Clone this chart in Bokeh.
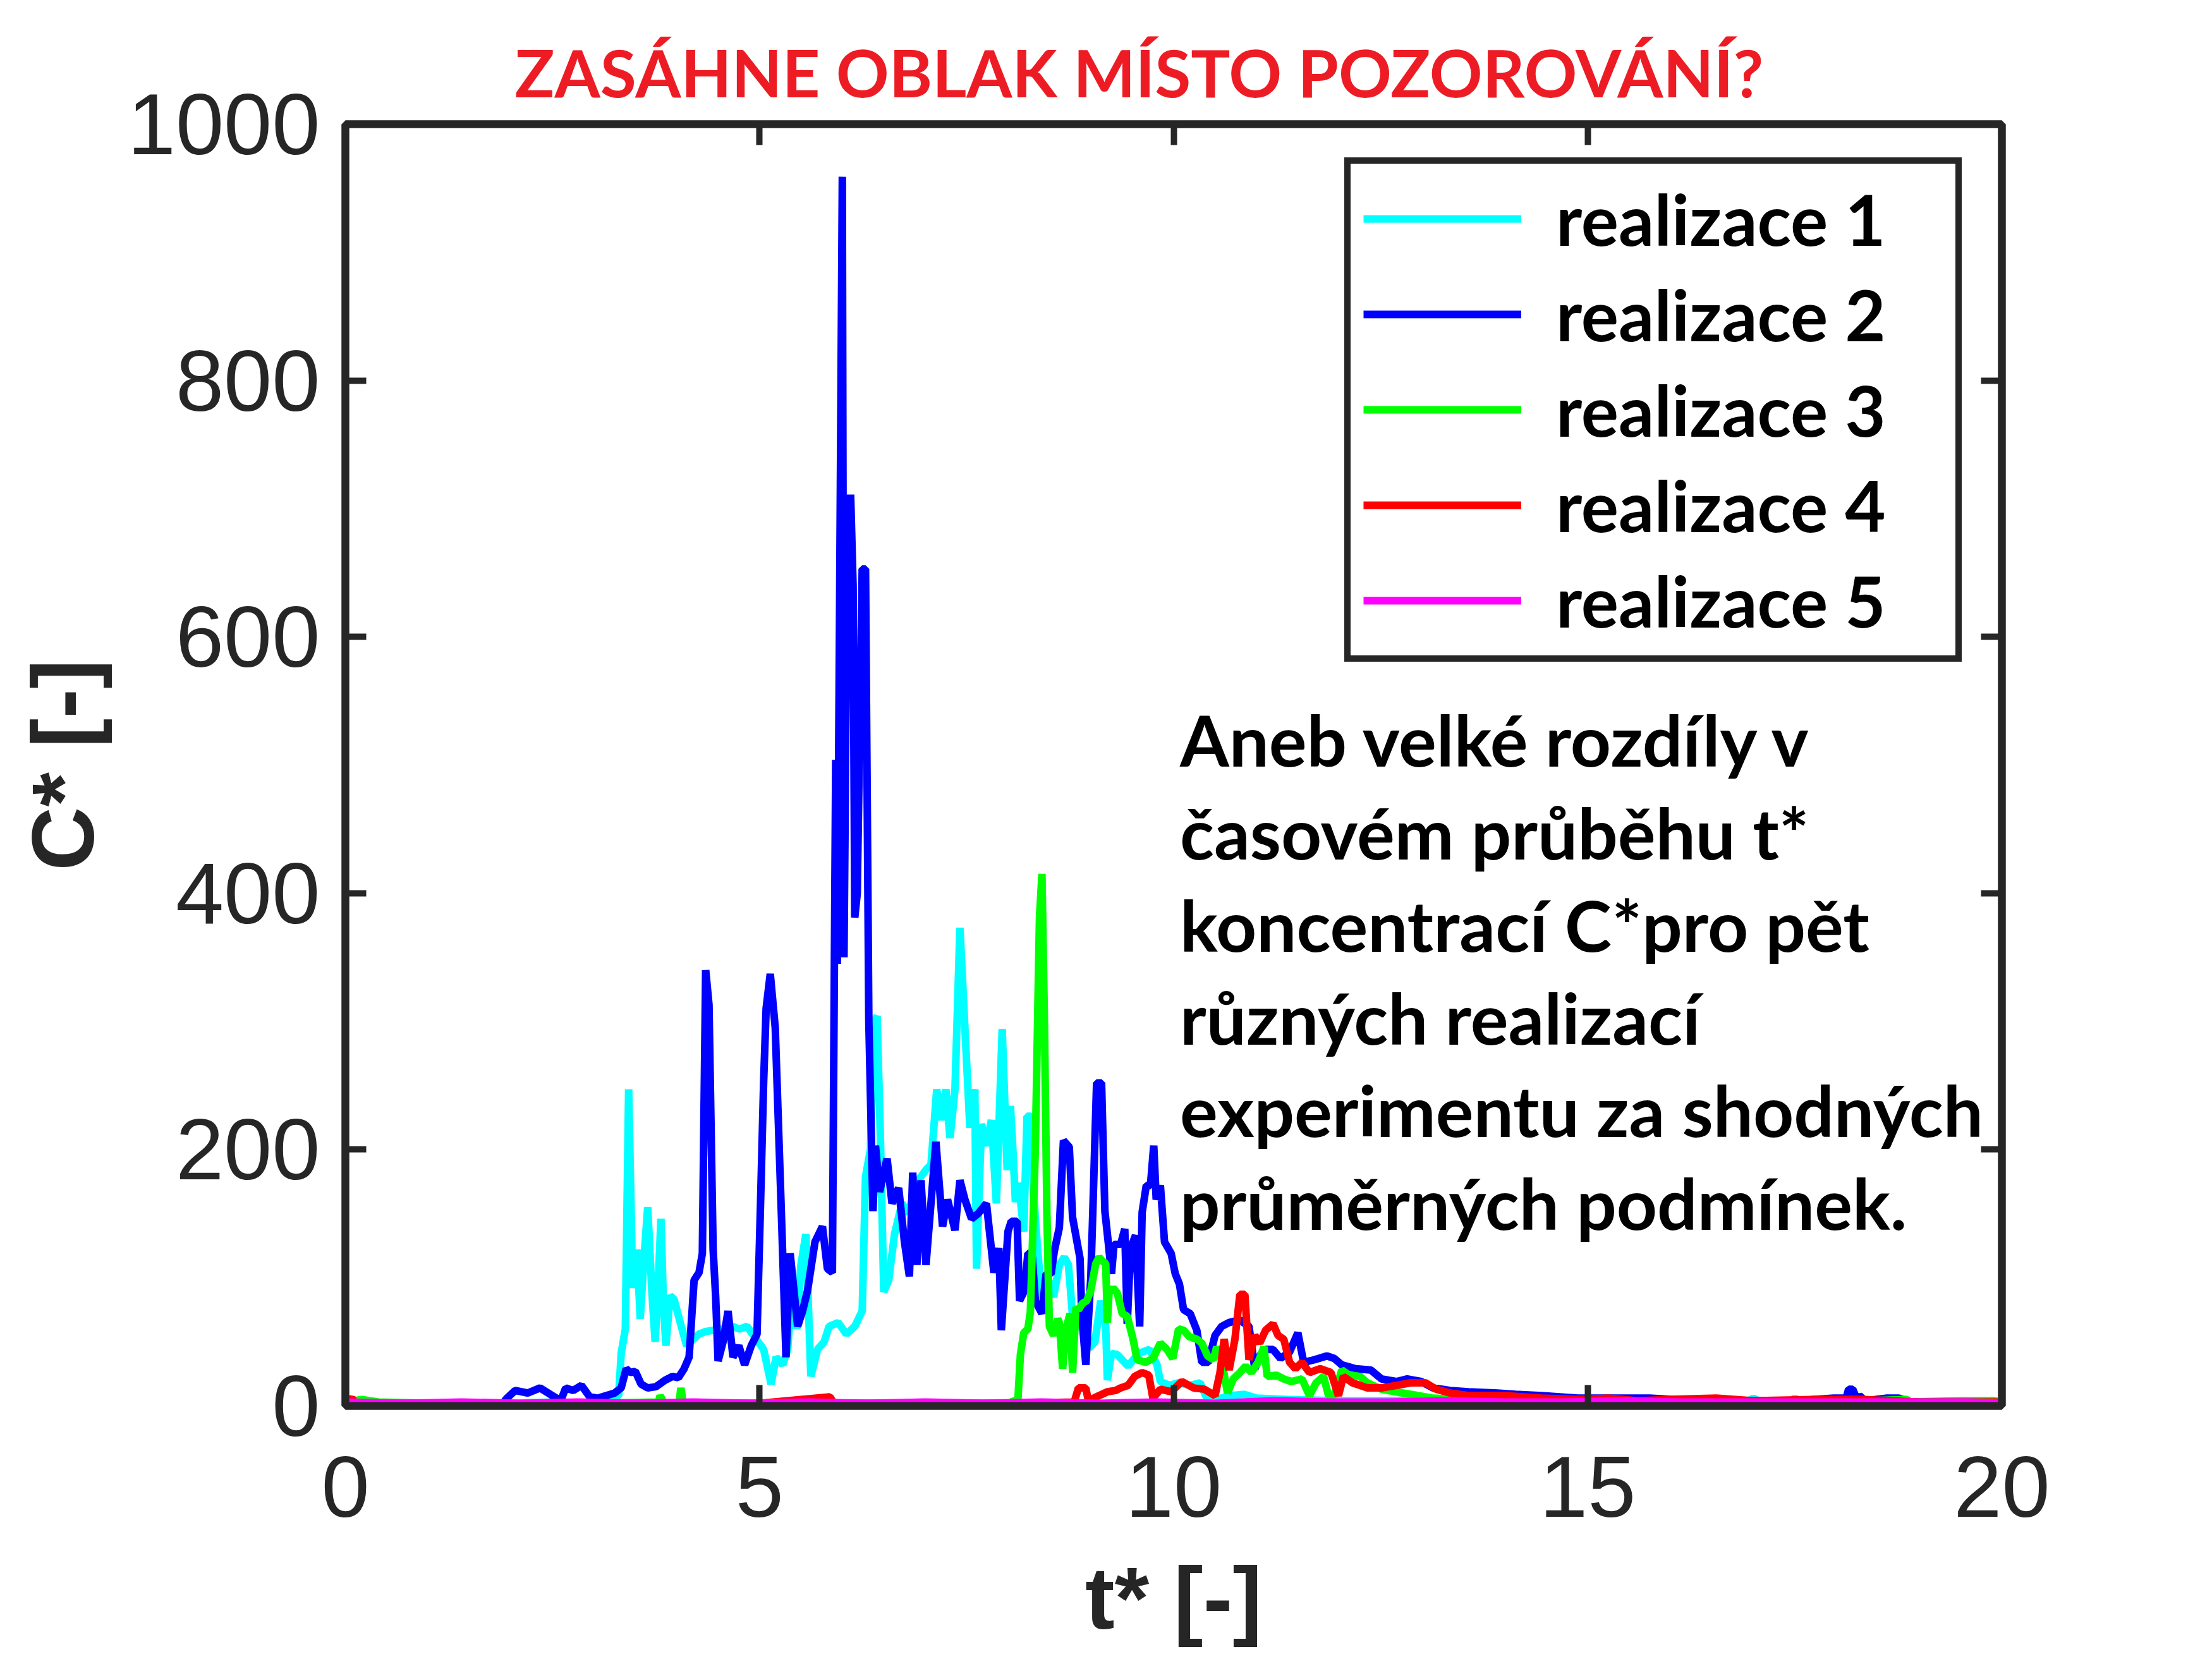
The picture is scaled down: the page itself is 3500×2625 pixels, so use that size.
from bokeh.plotting import figure
from bokeh.models import Range1d, LinearAxis, FixedTicker, Legend, LegendItem, Label
from bokeh.embed import file_html
from bokeh.resources import INLINE

# realizace 1 (cyan)
t1 = [0, 0.5, 1.0, 1.5, 2.0, 2.5, 3.0, 3.3,
      3.33, 3.38, 3.42, 3.46, 3.48, 3.52, 3.56, 3.60, 3.65, 3.70,
      3.74, 3.78, 3.81, 3.84, 3.87, 3.92, 3.97, 4.03, 4.12, 4.20,
      4.27, 4.35, 4.44, 4.55, 4.67, 4.76, 4.85, 4.95, 5.05, 5.14,
      5.20, 5.28, 5.34, 5.40, 5.45, 5.50, 5.56, 5.62, 5.70, 5.78,
      5.84, 5.95, 6.05, 6.15, 6.24, 6.28, 6.34, 6.38, 6.42, 6.46,
      6.50, 6.56, 6.63, 6.72, 6.80, 6.88, 6.95, 7.02, 7.07, 7.14,
      7.19, 7.25, 7.30, 7.36, 7.42, 7.48, 7.54, 7.60, 7.62, 7.68,
      7.74, 7.80, 7.86, 7.93, 7.99, 8.03, 8.06, 8.09, 8.13, 8.19,
      8.23, 8.28, 8.31, 8.36, 8.41, 8.48, 8.55, 8.62, 8.68, 8.73,
      8.78, 8.85, 8.92, 8.98, 9.05, 9.12, 9.18, 9.20, 9.25, 9.32,
      9.45, 9.55, 9.62, 9.71, 9.80, 9.84, 9.95, 10.06, 10.20, 10.32,
      10.40, 10.50, 10.70, 10.85, 11.00, 11.37, 12.0, 13.0, 14.0, 15.0,
      16.0, 16.9, 17.0, 17.1, 17.45, 17.5, 17.6, 18.5, 19.5, 20.0]
c1 = [2, 1, 2, 1, 2, 3, 2, 8,
      41, 60, 247, 120, 92, 122, 68, 110, 155, 90,
      50, 100, 146, 80, 47, 86, 83, 68, 47, 52,
      56, 58, 59, 60, 62, 60, 62, 53, 44, 17,
      38, 32, 44, 98, 60, 110, 134, 23, 44, 50,
      62, 65, 56, 62, 74, 179, 200, 300, 304, 209,
      89, 98, 134, 158, 150, 172, 179, 185, 188, 247,
      223, 247, 209, 247, 373, 295, 217, 247, 107, 220,
      203, 223, 158, 294, 184, 234, 199, 159, 174, 136,
      226, 226, 165, 120, 83, 100, 85, 110, 116, 110,
      70, 60, 75, 45, 50, 82, 62, 20, 41, 40,
      31, 39, 42, 44, 32, 19, 16, 18, 16, 18,
      6, 5, 8, 9, 6, 5, 4, 4, 3, 3,
      3, 3, 6, 3, 4, 6, 3, 3, 2, 2]

# realizace 2 (blue)
t2 = [0, 0.5, 1.0, 1.5, 1.9, 1.95, 2.05, 2.2, 2.35, 2.5,
      2.6, 2.66, 2.75, 2.85, 2.95, 3.05, 3.15, 3.25, 3.33, 3.39,
      3.44, 3.50, 3.57, 3.65, 3.75, 3.86, 3.95, 4.02, 4.09, 4.15,
      4.21, 4.27, 4.31, 4.35, 4.39, 4.44, 4.47, 4.50, 4.56, 4.62,
      4.68, 4.75, 4.82, 4.90, 4.97, 5.01, 5.05, 5.08, 5.13, 5.19,
      5.26, 5.32, 5.37, 5.46, 5.52, 5.58, 5.67, 5.76, 5.82, 5.88,
      5.92, 5.94, 6.00, 6.02, 6.05, 6.08, 6.10, 6.13, 6.15, 6.18,
      6.24, 6.28, 6.32, 6.37, 6.40, 6.45, 6.54, 6.60, 6.68, 6.75,
      6.81, 6.85, 6.90, 6.95, 7.01, 7.13, 7.21, 7.27, 7.36, 7.42,
      7.48, 7.56, 7.64, 7.74, 7.83, 7.89, 7.92, 8.00, 8.04, 8.11,
      8.14, 8.20, 8.24, 8.29, 8.33, 8.41, 8.46, 8.52, 8.56, 8.62,
      8.67, 8.74, 8.78, 8.87, 8.89, 8.94, 9.00, 9.03, 9.07, 9.13,
      9.17, 9.21, 9.25, 9.28, 9.36, 9.41, 9.44, 9.48, 9.54, 9.59,
      9.62, 9.67, 9.72, 9.76, 9.79, 9.84, 9.89, 9.97, 10.02, 10.07,
      10.12, 10.20, 10.28, 10.34, 10.42, 10.50, 10.58, 10.67, 10.80, 10.91,
      10.98, 11.05, 11.11, 11.20, 11.29, 11.40, 11.50, 11.57, 11.70, 11.85,
      11.94, 12.03, 12.20, 12.38, 12.51, 12.69, 12.82, 12.99, 13.13, 13.34,
      13.56, 13.91, 14.13, 14.44, 14.88, 15.30, 15.75, 16.00, 16.50, 17.00,
      17.50, 17.97, 18.12, 18.15, 18.20, 18.25, 18.28, 18.35, 18.60, 18.76,
      18.90, 19.50, 20.0]
c2 = [1, 1, 2, 1, 2, 6, 12, 10, 14, 8,
      4, 14, 12, 16, 7, 6, 8, 10, 14, 29,
      26, 27, 17, 14, 15, 20, 23, 22, 29, 38,
      98, 104, 119, 340, 313, 122, 86, 35, 50, 74,
      38, 47, 32, 47, 56, 152, 253, 310, 337, 295,
      158, 38, 119, 62, 74, 90, 128, 140, 107, 104,
      504, 345, 959, 350, 590, 590, 711, 640, 381, 400,
      653, 653, 300, 152, 203, 167, 193, 158, 170, 128,
      101, 182, 110, 176, 110, 206, 140, 161, 137, 176,
      161, 146, 150, 158, 104, 123, 59, 136, 144, 144,
      82, 90, 119, 119, 82, 72, 103, 103, 121, 139,
      207, 202, 147, 115, 72, 32, 100, 164, 252, 252,
      152, 128, 103, 126, 126, 138, 64, 123, 133, 62,
      151, 172, 172, 203, 161, 172, 128, 119, 103, 95,
      75, 72, 59, 34, 34, 55, 62, 65, 67, 62,
      29, 40, 44, 44, 37, 42, 57, 34, 36, 39,
      37, 32, 29, 28, 21, 19, 21, 19, 14, 12,
      11, 10, 9, 8, 6, 6, 6, 5, 4, 4,
      4, 6, 6, 13, 13, 5, 8, 4, 6, 6,
      3, 3, 2]

# realizace 3 (green)
t3 = [0, 0.2, 0.4, 1.0, 2.0, 3.0, 3.78, 3.80, 3.85, 4.03,
      4.05, 4.08, 5.0, 6.0, 7.0, 8.0, 8.12, 8.15, 8.19, 8.24,
      8.27, 8.33, 8.38, 8.41, 8.44, 8.47, 8.50, 8.55, 8.60, 8.62,
      8.66, 8.70, 8.75, 8.78, 8.82, 8.85, 8.90, 8.95, 9.00, 9.06,
      9.10, 9.14, 9.18, 9.20, 9.22, 9.27, 9.32, 9.38, 9.44, 9.51,
      9.56, 9.66, 9.75, 9.84, 9.92, 9.99, 10.06, 10.12, 10.19, 10.28,
      10.34, 10.41, 10.48, 10.52, 10.58, 10.65, 10.72, 10.80, 10.87, 10.94,
      11.02, 11.09, 11.13, 11.24, 11.33, 11.42, 11.55, 11.64, 11.72, 11.81,
      11.87, 11.94, 12.03, 12.12, 12.25, 12.34, 12.51, 12.77, 12.95, 13.13,
      13.5, 14.0, 15.0, 16.0, 17.0, 18.0, 18.85, 18.9, 19.5, 19.9, 20.0]
c3 = [3, 5, 3, 2, 2, 2, 3, 8, 2, 2,
      14, 2, 2, 2, 2, 2, 5, 40, 57, 60,
      73, 200, 380, 415, 300, 150, 62, 55, 68, 65,
      29, 60, 72, 26, 77, 75, 80, 82, 90, 111,
      116, 113, 111, 65, 88, 92, 88, 72, 70, 52,
      36, 34, 37, 49, 44, 37, 60, 59, 54, 52,
      49, 39, 36, 46, 36, 10, 21, 26, 31, 26,
      34, 46, 23, 24, 21, 19, 21, 8, 18, 23,
      8, 8, 28, 24, 23, 18, 13, 10, 8, 6,
      5, 4, 3, 3, 3, 3, 5, 3, 4, 4, 3]

# realizace 4 (red)
t4 = [0, 0.08, 0.12, 1.0, 2.0, 3.0, 4.0, 5.0, 5.85, 5.90,
      7.0, 8.0, 8.80, 8.85, 8.94, 8.97, 9.10, 9.20, 9.30, 9.36,
      9.45, 9.53, 9.62, 9.70, 9.75, 9.84, 9.97, 10.10, 10.24, 10.37,
      10.50, 10.56, 10.61, 10.67, 10.74, 10.80, 10.86, 10.91, 10.98, 11.04,
      11.11, 11.20, 11.26, 11.33, 11.40, 11.47, 11.55, 11.64, 11.77, 11.90,
      11.99, 12.05, 12.16, 12.34, 12.51, 12.69, 12.86, 13.04, 13.17, 13.34,
      13.56, 14.0, 14.44, 14.9, 15.25, 15.6, 16.0, 16.55, 17.0, 17.8, 18.3, 19.0, 20.0]
c4 = [2, 6, 2, 2, 1, 2, 2, 2, 7, 2,
      2, 2, 3, 14, 14, 4, 8, 11, 12, 14,
      16, 23, 26, 24, 6, 13, 11, 19, 14, 13,
      8, 26, 52, 28, 52, 87, 87, 36, 55, 49,
      59, 64, 55, 52, 34, 29, 34, 26, 29, 26,
      8, 23, 18, 14, 14, 16, 18, 18, 13, 10,
      8, 8, 6, 5, 6, 4, 5, 6, 4, 5, 5, 3, 3]

# realizace 5 (magenta)
t5 = [0, 0.7, 1.4, 2.1, 2.8, 3.5, 4.2, 4.9, 5.6, 6.3,
      7.0, 7.7, 8.4, 9.1, 9.8, 10.5, 11.2, 11.9, 12.6, 13.3,
      14.0, 14.7, 15.4, 16.1, 16.8, 17.5, 18.2, 18.9, 19.6, 20.0]
c5 = [3, 2, 3, 2, 3, 2, 3, 2, 3, 2,
      3, 2, 3, 2, 3, 2, 4, 3, 3, 4,
      3, 3, 4, 3, 3, 3, 3, 3, 3, 2]

names = ["realizace 1", "realizace 2", "realizace 3", "realizace 4", "realizace 5"]
colors = ["#00FFFF", "#0000FF", "#00FF00", "#FF0000", "#FF00FF"]
x_ticks = [0, 5, 10, 15, 20]
y_ticks = [0, 200, 400, 600, 800, 1000]
notes = ["Aneb velké rozdíly v",
         "časovém průběhu t*",
         "koncentrací C*pro pět",
         "různých realizací",
         "experimentu za shodných",
         "průměrných podmínek."]

AX = "#262626"

p = figure(width=3484, height=2609, x_range=Range1d(0, 20), y_range=Range1d(0, 1000),
           output_backend="svg", toolbar_location=None, tools="",
           min_border_left=546, min_border_right=317, min_border_top=196, min_border_bottom=383,
           background_fill_color="white", border_fill_color="white")

p.xgrid.visible = False
p.ygrid.visible = False
p.outline_line_color = AX
p.outline_line_width = 12

xa = p.below[0]
ya = p.left[0]

# MATLAB style box: ticks inside, on all four sides
xa_top = LinearAxis()
ya_right = LinearAxis()
p.add_layout(xa_top, "above")
p.add_layout(ya_right, "right")
for ax in [xa, ya, xa_top, ya_right]:
    ax.axis_line_color = AX
    ax.axis_line_width = 12
    ax.major_tick_line_color = AX
    ax.major_tick_line_width = 10
    ax.major_tick_in = 33
    ax.major_tick_out = 0
    ax.minor_tick_line_color = None
    ax.major_label_text_color = AX
    ax.major_label_text_font = "Liberation Sans"
    ax.major_label_text_font_size = "137px"
    ax.axis_label_text_color = AX
    ax.axis_label_text_font = "Liberation Sans"
    ax.axis_label_text_font_style = "bold"
    ax.axis_label_text_font_size = "140px"

xa.ticker = FixedTicker(ticks=x_ticks)
xa_top.ticker = FixedTicker(ticks=x_ticks)
ya.ticker = FixedTicker(ticks=y_ticks)
ya_right.ticker = FixedTicker(ticks=y_ticks)

# the mirror axes carry ticks only
for ax in [xa_top, ya_right]:
    ax.major_label_text_color = None
    ax.major_label_text_font_size = "1px"
    ax.major_label_standoff = 0

xa.axis_label = "t* [-]"
xa.major_label_standoff = 80
xa.axis_label_standoff = 47
ya.axis_label = "C* [-]"
ya.major_label_standoff = 40
ya.axis_label_standoff = 21

p.title.text = "ZASÁHNE OBLAK MÍSTO POZOROVÁNÍ?"
p.title.align = "left"
p.title.offset = 268
p.title.standoff = 42
p.title.text_font = "Lato"
p.title.text_font_style = "bold"
p.title.text_font_size = "104px"
p.title.text_color = "#ED1C24"

series = [(t1, c1), (t2, c2), (t3, c3), (t4, c4), (t5, c5)]
items = []
for (tt, cc), name, col in zip(series, names, colors):
    r = p.line(tt, cc, line_color=col, line_width=12)
    items.append(LegendItem(label=name, renderers=[r]))

legend = Legend(items=items, location=(1581, 1177), margin=0,
                padding=20, spacing=17, glyph_width=250, glyph_height=130,
                label_height=130, label_width=612, label_standoff=55,
                label_text_font="Lato", label_text_font_style="bold",
                label_text_font_size="111px", label_text_color="black",
                border_line_color=AX, border_line_width=10, border_line_alpha=1.0,
                background_fill_color="white", background_fill_alpha=1.0)
p.add_layout(legend)

# explanatory note inside the axes
for i, line in enumerate(notes):
    p.add_layout(Label(x=10.076, y=520 - i * 72.2, text=line,
                       text_font="Lato", text_font_style="bold",
                       text_font_size="112px", text_color="black",
                       text_align="left", text_baseline="alphabetic"))

open("out.html", "w").write(file_html(p, INLINE))
